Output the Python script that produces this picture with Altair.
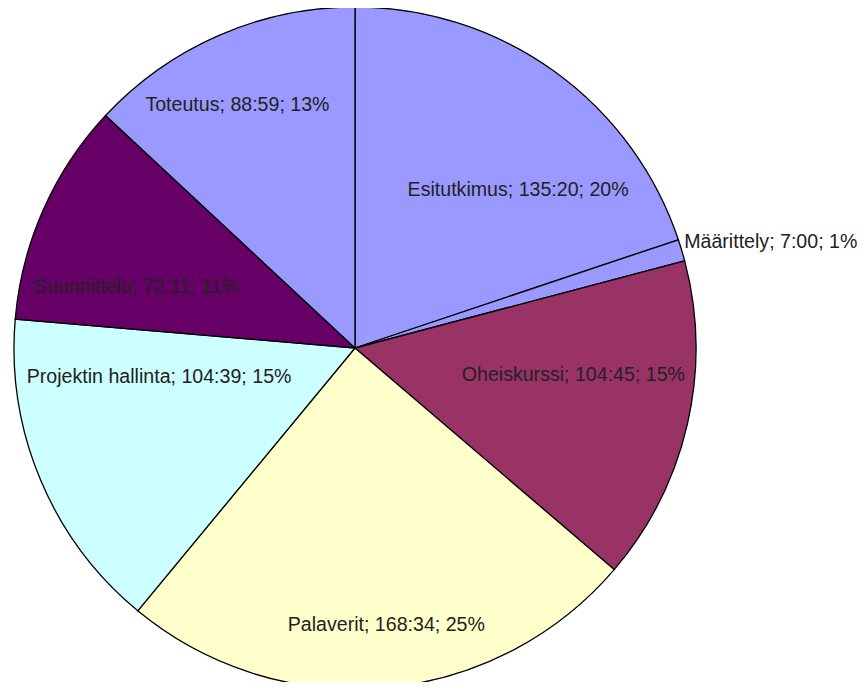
import altair as alt
import pandas as pd

# Data (durations as h:mm)
categories = ["Esitutkimus", "Määrittely", "Oheiskurssi", "Palaverit",
              "Projektin hallinta", "Suunnittelu", "Toteutus"]
durations = ["135:20", "7:00", "104:45", "168:34", "104:39", "72:11", "88:59"]
colors = ["#9999ff", "#9999ff", "#993366", "#ffffcc", "#ccffff", "#660066", "#9999ff"]

# Label layout (angle offset from slice bisector in degrees, radius in px)
label_offset_deg = [10.2, 2.4, -5.9, -1.5, 14.4, -8.3, -2.3]
label_radius = [227, 429, 220, 279, 198, 227, 270]

minutes = [int(d.split(":")[0]) * 60 + int(d.split(":")[1]) for d in durations]
total = sum(minutes)
labels = [f"{c}; {d}; {round(100 * m / total)}%" for c, d, m in zip(categories, durations, minutes)]

df = pd.DataFrame({
    "category": categories,
    "minutes": minutes,
    "order": list(range(len(categories))),
    "label": labels,
    "off": label_offset_deg,
    "lr": label_radius,
})

CX, CY, R = 347, 340, 341

base = alt.Chart(df)

pie = base.mark_arc(outerRadius=R, stroke="#000000", strokeWidth=1.3).encode(
    x=alt.value(CX),
    y=alt.value(CY),
    theta=alt.Theta("minutes:Q", stack=True),
    order=alt.Order("order:Q"),
    color=alt.Color("category:N", scale=alt.Scale(domain=categories, range=colors), legend=None),
)

text = base.transform_window(
    cum="sum(minutes)", sort=[alt.SortField("order")], frame=[None, 0]
).transform_joinaggregate(
    total="sum(minutes)"
).transform_calculate(
    ang="(datum.cum - datum.minutes/2)/datum.total*2*PI + datum.off*PI/180"
).mark_text(
    font="Liberation Sans", fontSize=19.6, color="#222222", align="center", baseline="middle"
).encode(
    x=alt.value(CX),
    y=alt.value(CY),
    theta=alt.Theta("ang:Q", scale=None, stack=None),
    radius=alt.Radius("lr:Q", scale=None),
    text="label:N",
)

chart = alt.layer(pie, text).resolve_scale(theta="independent", radius="independent").properties(
    width=851, height=674, padding=0, autosize=alt.AutoSizeParams(type="none")
).configure_view(stroke=None)

chart.save("out.html", embed_options={"renderer": "svg", "actions": False})
